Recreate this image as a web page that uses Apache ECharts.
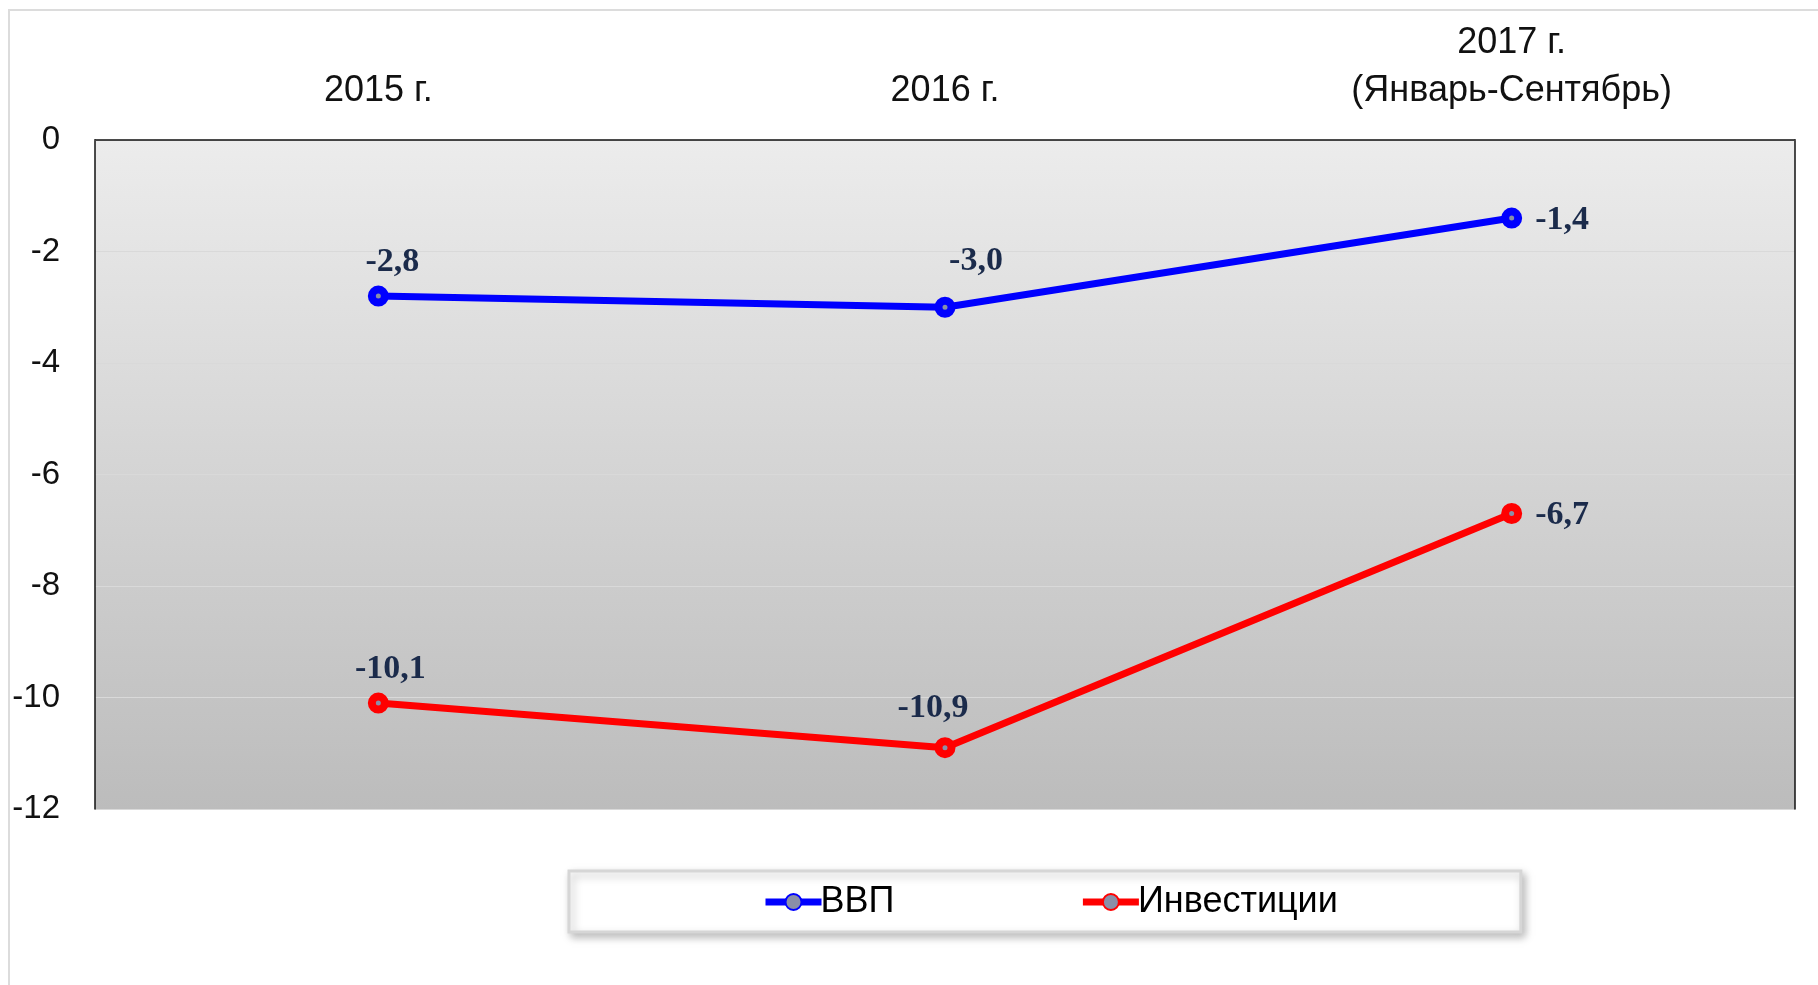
<!DOCTYPE html>
<html>
<head>
<meta charset="utf-8">
<script src="https://cdn.jsdelivr.net/npm/echarts@6/dist/echarts.min.js"></script>
<style>
  html, body { margin: 0; padding: 0; background: #fff; }
  #chart { width: 1818px; height: 985px; }
</style>
</head>
<body>
<div id="chart"></div>
<script>
const categories = ['2015 г.', '2016 г.', '2017 г.\n(Январь-Сентябрь)'];
const gdp = [-2.8, -3.0, -1.4];
const invest = [-10.1, -10.9, -6.7];
const yTicks = { min: -12, max: 0, step: 2 };

const sans = "'Liberation Sans', Arial, sans-serif";
const chart = echarts.init(document.querySelector('#chart'));

const fmt = (p) => p.value.toFixed(1).replace('.', ',');

// label offsets by point
const gdpOffsets = [[14, -1], [31, -14], null];
const investOffsets = [[12, -1], [-12, -7], null];

const buildData = (values, offsets) => values.map((v, i) => {
    const off = offsets[i];
    return {
        value: v,
        label: off ? { position: 'top', offset: off } : { position: 'right', offset: [8, 2] }
    };
});

const lineSeries = (name, color, values, offsets) => ({
    name: name,
    type: 'line',
    data: buildData(values, offsets),
    symbol: 'circle',
    symbolSize: 13,
    lineStyle: { color: color, width: 7 },
    itemStyle: { color: '#8a8fa8', borderColor: color, borderWidth: 8 },
    label: {
        show: true,
        formatter: fmt,
        color: '#1b2b4b',
        fontFamily: "'Liberation Serif', 'Times New Roman', serif",
        fontWeight: 'bold',
        fontSize: 34
    },
    z: 3
});

chart.setOption({
    animation: false,
    graphic: [{
        type: 'rect',
        shape: { x: 9, y: 10, width: 1830, height: 1000 },
        style: { fill: 'none', stroke: '#dcdcdc', lineWidth: 2 },
        silent: true
    }],
    grid: {
        left: 95, right: 23, top: 140, bottom: 176,
        show: true,
        borderWidth: 0,
        backgroundColor: new echarts.graphic.LinearGradient(0, 0, 0, 1, [
            { offset: 0, color: '#ececec' },
            { offset: 1, color: '#bcbcbc' }
        ])
    },
    legend: {
        left: 569,
        top: 871,
        padding: [13, 183, 12, 193],
        itemGap: 185,
        itemWidth: 56,
        itemHeight: 20,
        backgroundColor: '#fff',
        borderColor: '#d6d6d6',
        borderWidth: 3,
        shadowColor: 'rgba(0,0,0,0.25)',
        shadowBlur: 8,
        shadowOffsetX: 3,
        shadowOffsetY: 4,
        lineStyle: { width: 7 },
        textStyle: { fontFamily: sans, fontSize: 36, color: '#000', padding: [0, 0, 0, -6] },
        data: ['ВВП', 'Инвестиции']
    },
    xAxis: [{
        type: 'category',
        position: 'top',
        data: categories,
        boundaryGap: true,
        axisTick: { show: false },
        axisLine: { lineStyle: { color: '#dcdcdc', width: 1 } },
        axisLabel: {
            fontFamily: sans, fontSize: 36, lineHeight: 48, color: '#111', margin: 25
        }
    }, {
        type: 'category',
        position: 'bottom',
        data: categories,
        axisTick: { show: false },
        axisLabel: { show: false },
        axisLine: { lineStyle: { color: '#111', width: 1.5 } }
    }],
    yAxis: [{
        type: 'value',
        min: yTicks.min,
        max: yTicks.max,
        interval: yTicks.step,
        axisLine: { show: true, lineStyle: { color: '#111', width: 1.5 } },
        axisTick: { show: false },
        axisLabel: { fontFamily: sans, fontSize: 33, color: '#111', margin: 35 },
        splitLine: { lineStyle: { color: '#d9d9d9', width: 1 } }
    }, {
        type: 'value',
        position: 'right',
        min: yTicks.min,
        max: yTicks.max,
        interval: yTicks.step,
        axisLine: { show: true, lineStyle: { color: '#111', width: 1.5 } },
        axisTick: { show: false },
        axisLabel: { show: false },
        splitLine: { show: false }
    }],
    series: [
        lineSeries('ВВП', '#0000ff', gdp, gdpOffsets),
        lineSeries('Инвестиции', '#ff0000', invest, investOffsets)
    ]
});
</script>
</body>
</html>
